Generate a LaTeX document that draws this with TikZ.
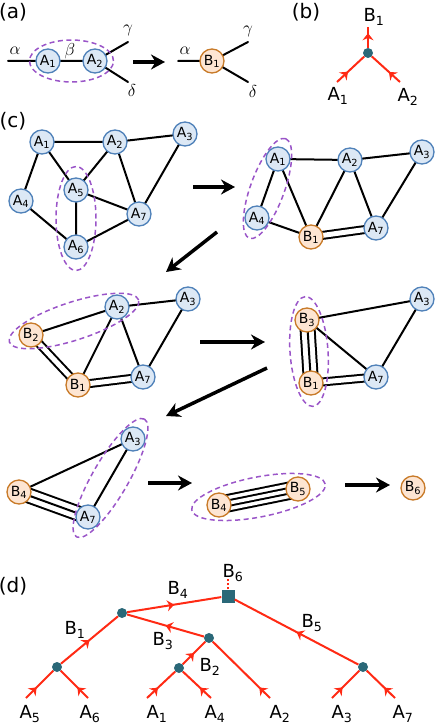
\documentclass[tikz,border=0pt]{standalone}
\usepackage{fontspec}
\setmainfont{DejaVu Sans}
\usetikzlibrary{arrows.meta,calc,backgrounds,decorations.markings}

\definecolor{fillA}{HTML}{DCE8F5}
\definecolor{lineA}{HTML}{4F81B9}
\definecolor{fillB}{HTML}{FDE5D2}
\definecolor{lineB}{HTML}{C87A28}
\definecolor{grpcol}{HTML}{9A55C8}
\definecolor{vertcol}{HTML}{2A6878}
\definecolor{legcol}{HTML}{FF2A14}

\newcommand{\ix}[2]{#1\textsubscript{#2}}

\begin{document}
\begin{tikzpicture}[
    x=1pt, y=-1pt,
    >=stealth,
    anode/.style={circle, draw=lineA, fill=fillA, line width=1.3pt, minimum size=24pt, inner sep=0pt, font=\fontsize{14}{16}\selectfont},
    bnode/.style={anode, draw=lineB, fill=fillB},
    bond/.style={line width=2pt, line cap=round},
    bondii/.style={bond, line cap=butt, double, double distance=5pt},
    bondiii/.style={bond, line cap=butt, double, double distance=12pt},
    grp/.style={draw=grpcol, line width=1.5pt, dash pattern=on 5pt off 3.5pt},
    goes/.style={line width=3.5pt, -{Stealth[length=14pt,width=15pt]}},
    vert/.style={circle, fill=vertcol, minimum size=10pt, inner sep=0pt},
    root/.style={rectangle, fill=vertcol, minimum size=13pt, inner sep=0pt},
    leg/.style={draw=legcol, line width=2pt, postaction={decorate},
        decoration={markings, mark=at position #1 with {\arrow[legcol]{Stealth[length=7pt,width=11pt]}}}},
    leg/.default=0.5,
    tag/.style={font=\fontsize{20}{24}\selectfont},
    lbl/.style={font=\fontsize{18}{22}\selectfont},
    grk/.style={font=\fontsize{18}{22}\selectfont}
]
\useasboundingbox (0,0) rectangle (436,727);

% (a)
\node (tagA) [tag] at (13,12) {(a)};
\node (aA1) [anode] at (48,61) {\ix{A}{1}};
\node (aA2) [anode] at (95,61) {\ix{A}{2}};
\coordinate (aAl) at (8,61);
\coordinate (aAu) at (128,42);
\coordinate (aAd) at (128,82);
\node (aB1) [bnode] at (212,61) {\ix{B}{1}};
\coordinate (aBl) at (178,61);
\coordinate (aBu) at (248,42);
\coordinate (aBd) at (248,82);
\coordinate (aGo) at (133,62);
\coordinate (aTo) at (165,62);
\node (al1) [grk] at (15,51) {$\alpha$};
\node (be1) [grk] at (70,51) {$\beta$};
\node (ga1) [grk] at (128,30) {$\gamma$};
\node (de1) [grk] at (132,91) {$\delta$};
\node (al2) [grk] at (185,51) {$\alpha$};
\node (ga2) [grk] at (248,31) {$\gamma$};
\node (de2) [grk] at (253,92) {$\delta$};

% (b)
\node (tagB) [tag] at (306,12) {(b)};
\node (vb) [vert] at (368,53) {};
\coordinate (bA1) at (337,82);
\coordinate (bA2) at (400,82);
\coordinate (bB1) at (368,27);
\node (lbB1) [lbl] at (374,17) {\ix{B}{1}};
\node (lbA1) [lbl] at (338,96) {\ix{A}{1}};
\node (lbA2) [lbl] at (408,97) {\ix{A}{2}};

% (c)
\node (tagC) [tag] at (13,121) {(c)};
\node (g1a1) [anode] at (42,142) {\ix{A}{1}};
\node (g1a2) [anode] at (115,142) {\ix{A}{2}};
\node (g1a3) [anode] at (185,134) {\ix{A}{3}};
\node (g1a4) [anode] at (21,201) {\ix{A}{4}};
\node (g1a5) [anode] at (76,190) {\ix{A}{5}};
\node (g1a6) [anode] at (76,247) {\ix{A}{6}};
\node (g1a7) [anode] at (139,214) {\ix{A}{7}};

\node (g2a1) [anode] at (278,159) {\ix{A}{1}};
\node (g2a2) [anode] at (350,160) {\ix{A}{2}};
\node (g2a3) [anode] at (422,152) {\ix{A}{3}};
\node (g2a4) [anode] at (257,218) {\ix{A}{4}};
\node (g2b1) [bnode] at (311,237) {\ix{B}{1}};
\node (g2a7) [anode] at (376,228) {\ix{A}{7}};

\node (g3b2) [bnode] at (31,335) {\ix{B}{2}};
\node (g3a2) [anode] at (117,307) {\ix{A}{2}};
\node (g3a3) [anode] at (188,299) {\ix{A}{3}};
\node (g3b1) [bnode] at (78,385) {\ix{B}{1}};
\node (g3a7) [anode] at (143,377) {\ix{A}{7}};

\node (g4b3) [bnode] at (307,320) {\ix{B}{3}};
\node (g4b1) [bnode] at (311,383) {\ix{B}{1}};
\node (g4a3) [anode] at (422,299) {\ix{A}{3}};
\node (g4a7) [anode] at (376,377) {\ix{A}{7}};

\node (g5b4) [bnode] at (19,492) {\ix{B}{4}};
\node (g5a7) [anode] at (88,517) {\ix{A}{7}};
\node (g5a3) [anode] at (133,439) {\ix{A}{3}};

\node (g6b4) [bnode] at (219,505) {\ix{B}{4}};
\node (g6b5) [bnode] at (298,489) {\ix{B}{5}};

\node (g7b6) [bnode] at (413,488) {\ix{B}{6}};

\coordinate (c1Go) at (193,187);
\coordinate (c1To) at (235,187);
\coordinate (c2Go) at (217,232);
\coordinate (c2To) at (166,272);
\coordinate (c3Go) at (200,342);
\coordinate (c3To) at (265,342);
\coordinate (c4Go) at (267,368);
\coordinate (c4To) at (166,416);
\coordinate (c5Go) at (148,483);
\coordinate (c5To) at (192,483);
\coordinate (c6Go) at (345,485);
\coordinate (c6To) at (390,485);

% (d)
\node (tagD) [tag] at (13,586) {(d)};
\node (vB6) [root] at (228,596) {};
\node (vB4) [vert] at (122,613) {};
\node (vB3) [vert] at (209,638) {};
\node (vB2) [vert] at (179,668) {};
\node (vB1) [vert] at (57,667) {};
\node (vB5) [vert] at (363,667) {};
\coordinate (tB6) at (228,578);
\coordinate (lA5) at (26,698);
\coordinate (lA6) at (88,698);
\coordinate (lA1) at (147,698);
\coordinate (lA4) at (211,698);
\coordinate (lA2) at (270,698);
\coordinate (lA3) at (332,698);
\coordinate (lA7) at (395,698);
\node (tB6l) [lbl] at (233,573) {\ix{B}{6}};
\node (tB4l) [lbl] at (178,590) {\ix{B}{4}};
\node (tB1l) [lbl] at (75,630) {\ix{B}{1}};
\node (tB3l) [lbl] at (163,641) {\ix{B}{3}};
\node (tB2l) [lbl] at (210,667) {\ix{B}{2}};
\node (tB5l) [lbl] at (312,623) {\ix{B}{5}};
\node (tA5l) [lbl] at (30,714) {\ix{A}{5}};
\node (tA6l) [lbl] at (90,714) {\ix{A}{6}};
\node (tA1l) [lbl] at (157,714) {\ix{A}{1}};
\node (tA4l) [lbl] at (215,714) {\ix{A}{4}};
\node (tA2l) [lbl] at (280,714) {\ix{A}{2}};
\node (tA3l) [lbl] at (342,714) {\ix{A}{3}};
\node (tA7l) [lbl] at (403,714) {\ix{A}{7}};

% Edges
\begin{pgfonlayer}{background}
\draw[bond] (aAl) -- (aA1.center) -- (aA2.center) -- (aAu);
\draw[bond] (aA2.center) -- (aAd);
\draw[bond] (aBl) -- (aB1.center) -- (aBu);
\draw[bond] (aB1.center) -- (aBd);

\draw[bond] (g1a1.center) -- (g1a2.center) -- (g1a3.center) -- (g1a7.center) -- (g1a2.center) -- (g1a5.center) -- (g1a1.center) -- (g1a4.center) -- (g1a6.center) -- (g1a7.center) -- (g1a5.center) -- (g1a6.center);

\draw[bond] (g2a4.center) -- (g2a1.center) -- (g2a2.center) -- (g2a3.center) -- (g2a7.center) -- (g2a2.center) -- (g2b1.center) -- (g2a1.center);
\draw[bond] (g2a4.center) -- (g2b1.center);
\draw[bondii] (g2b1.center) -- (g2a7.center);

\draw[bond] (g3b2.center) -- (g3a2.center) -- (g3a3.center) -- (g3a7.center) -- (g3a2.center) -- (g3b1.center);
\draw[bondii] (g3b2.center) -- (g3b1.center);
\draw[bondii] (g3b1.center) -- (g3a7.center);

\draw[bond] (g4a7.center) -- (g4b3.center) -- (g4a3.center) -- (g4a7.center);
\draw[bondiii] (g4b3.center) -- (g4b1.center);
\draw[bond] (g4b3.center) -- (g4b1.center);
\draw[bondii] (g4b1.center) -- (g4a7.center);

\draw[bond] (g5b4.center) -- (g5a3.center) -- (g5a7.center);
\draw[bondiii] (g5b4.center) -- (g5a7.center);
\draw[bond] (g5b4.center) -- (g5a7.center);

\draw[bond, line cap=butt, double, double distance=14.5pt] (g6b4.center) -- (g6b5.center);
\draw[bond, line cap=butt, double, double distance=3.5pt] (g6b4.center) -- (g6b5.center);
\end{pgfonlayer}

\draw[grp] ($(aA1)!0.5!(aA2)$) ellipse [x radius=42pt, y radius=21pt];
\draw[grp] ($(g1a5)!0.5!(g1a6)$) ellipse [x radius=20pt, y radius=52pt];
\draw[grp] ($(g2a1)!0.5!(g2a4)$) ellipse [x radius=53pt, y radius=17pt, rotate=70];
\draw[grp] ($(g3b2)!0.5!(g3a2)$) ellipse [x radius=68pt, y radius=19pt, rotate=18];
\draw[grp] ($(g4b3)!0.5!(g4b1)$) ellipse [x radius=55pt, y radius=19pt, rotate=94];
\draw[grp] ($(g5a3)!0.5!(g5a7)$) ellipse [x radius=68pt, y radius=18pt, rotate=60];
\draw[grp] ($(g6b4)!0.5!(g6b5)$) ellipse [x radius=68pt, y radius=20pt, rotate=11];

\draw[goes] (aGo) -- (aTo);
\draw[goes] (c1Go) -- (c1To);
\draw[goes] (c2Go) -- (c2To);
\draw[goes] (c3Go) -- (c3To);
\draw[goes] (c4Go) -- (c4To);
\draw[goes] (c5Go) -- (c5To);
\draw[goes] (c6Go) -- (c6To);

\draw[leg=15pt] (bA1) -- (vb);
\draw[leg=15pt] (bA2) -- (vb);
\draw[leg=0.7] (vb) -- (bB1);

\draw[leg=15pt] (lA5) -- (vB1);
\draw[leg=15pt] (lA6) -- (vB1);
\draw[leg=15pt] (lA1) -- (vB2);
\draw[leg=15pt] (lA4) -- (vB2);
\draw[leg=15pt] (lA2) -- (vB3);
\draw[leg=15pt] (lA3) -- (vB5);
\draw[leg=15pt] (lA7) -- (vB5);
\draw[leg] (vB1) -- (vB4);
\draw[leg] (vB2) -- (vB3);
\draw[leg] (vB3) -- (vB4);
\draw[leg] (vB4) -- (vB6);
\draw[leg] (vB5) -- (vB6);
\draw[legcol, line width=2pt, dash pattern=on 2pt off 2pt] (vB6) -- (tB6);

\end{tikzpicture}
\end{document}
